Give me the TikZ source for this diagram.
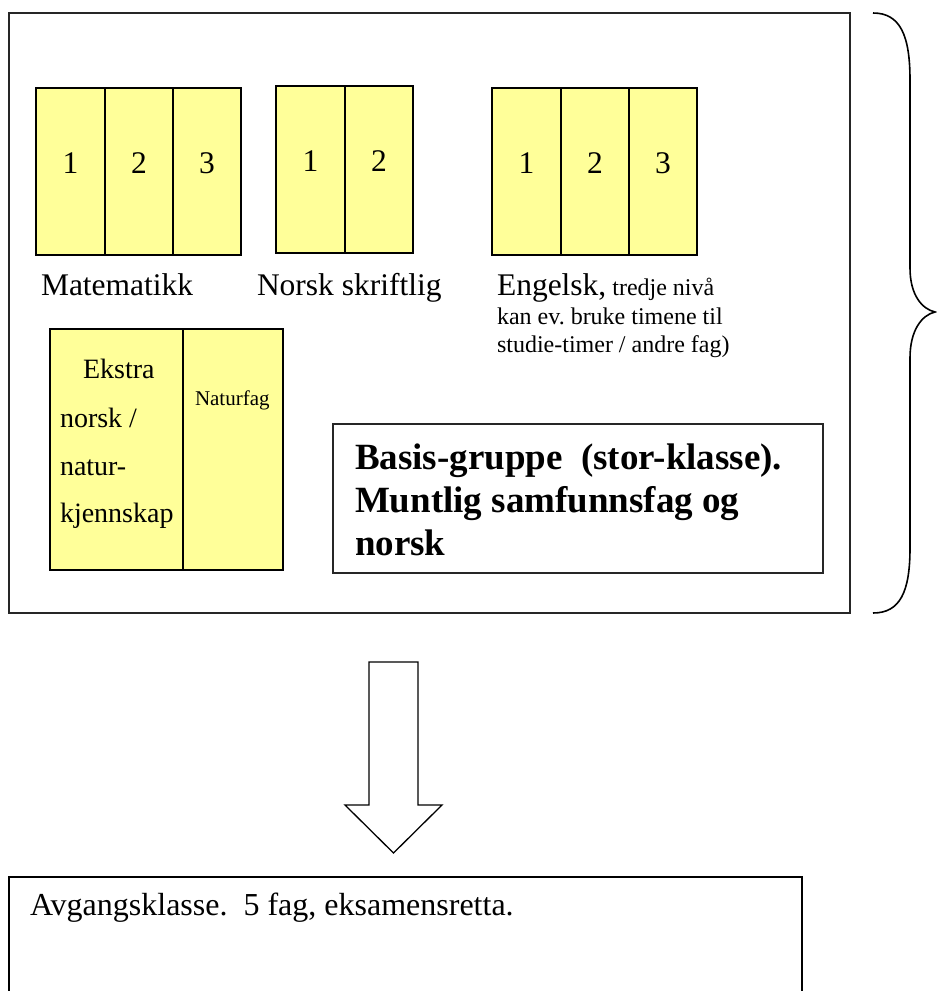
\documentclass[tikz,border=0pt]{standalone}
\usepackage{fontspec}
\setmainfont{Liberation Serif}
\definecolor{cellyellow}{HTML}{FFFF99}
\newcommand\myfBig{\fontsize{31.5}{36}\selectfont}
\newcommand\myfSmall{\fontsize{24}{28}\selectfont}
\newcommand\myfEks{\fontsize{28}{32}\selectfont}
\newcommand\myfNat{\fontsize{21}{24}\selectfont}
\newcommand\myfBold{\fontsize{37}{43}\selectfont\bfseries}
\newcommand\myfAvg{\fontsize{32}{36}\selectfont}
\begin{document}
\frenchspacing
\begin{tikzpicture}[x=1pt,y=-1pt,
  frame/.style={draw=black!85, line width=1.6pt},
  cell/.style={draw=black, line width=1.6pt, fill=cellyellow, anchor=north west, inner sep=0pt, outer sep=0pt},
  txt/.style={anchor=base west, inner sep=0pt, outer sep=0pt},
  num/.style={anchor=base, inner sep=0pt, outer sep=0pt, font=\myfBig}]
\useasboundingbox (0,0) rectangle (937,991);

% outer box
\node[frame, anchor=north west, minimum width=841, minimum height=600, inner sep=0pt, outer sep=0pt] (outer) at (9,13) {};

% brace
\draw[line width=1.6pt] (873,13) .. controls (900,13) and (910,35) .. (910,80) -- (910,268)
  .. controls (910,295) and (922,309) .. (935,312)
  .. controls (922,315) and (910,330) .. (910,358) -- (910,548)
  .. controls (910,592) and (900,613) .. (873,613);

% Matematikk
\node[cell, minimum width=69, minimum height=167] (m1) at (36,88) {};
\node[cell, minimum width=68, minimum height=167] (m2) at (105,88) {};
\node[cell, minimum width=68, minimum height=167] (m3) at (173,88) {};
\node[num] (m1t) at (70.5,173) {1};
\node[num] (m2t) at (139,173) {2};
\node[num] (m3t) at (207,173) {3};
\node[txt, font=\myfBig] (mlab) at (41,295) {Matematikk};

% Norsk skriftlig
\node[cell, minimum width=69, minimum height=167] (n1) at (276,86) {};
\node[cell, minimum width=68, minimum height=167] (n2) at (345,86) {};
\node[num] (n1t) at (310.5,171) {1};
\node[num] (n2t) at (379,171) {2};
\node[txt, font=\myfBig] (nlab) at (257,295) {Norsk skriftlig};

% Engelsk
\node[cell, minimum width=69, minimum height=167] (e1) at (492,88) {};
\node[cell, minimum width=68, minimum height=167] (e2) at (561,88) {};
\node[cell, minimum width=68, minimum height=167] (e3) at (629,88) {};
\node[num] (e1t) at (526.5,173) {1};
\node[num] (e2t) at (595,173) {2};
\node[num] (e3t) at (663,173) {3};
\node[txt] (elab1) at (497,295) {\myfBig Engelsk,\myfSmall{} tredje nivå};
\node[txt, font=\myfSmall] (elab2) at (497,324) {kan ev. bruke timene til};
\node[txt, font=\myfSmall] (elab3) at (497,352) {studie-timer / andre fag)};

% Ekstra / Naturfag
\node[cell, minimum width=133, minimum height=241] (ek) at (50,329) {};
\node[cell, minimum width=100, minimum height=241] (nat) at (183,329) {};
\node[txt, font=\myfEks] (ek1) at (83,378) {Ekstra};
\node[txt, font=\myfEks] (ek2) at (60,427) {norsk /};
\node[txt, font=\myfEks] (ek3) at (60,475) {natur-};
\node[txt, font=\myfEks] (ek4) at (60,522) {kjennskap};
\node[txt, font=\myfNat] (natt) at (195,405) {Naturfag};

% Basis box
\node[frame, anchor=north west, minimum width=490, minimum height=149, inner sep=0pt, outer sep=0pt] (basis) at (333,424) {};
\node[txt, font=\myfBold] (b1) at (355,469) {Basis-gruppe~ (stor-klasse).};
\node[txt, font=\myfBold] (b2) at (355,512) {Muntlig samfunnsfag og};
\node[txt, font=\myfBold] (b3) at (355,555) {norsk};

% block arrow
\coordinate (atop) at (393.5,662);
\draw[line width=1.3pt, line join=miter] (369,662) -- (418,662) -- (418,805) -- (442,805) -- (393.5,853) -- (345,805) -- (369,805) -- cycle;

% bottom box (open at the bottom edge)
\draw[line width=1.8pt] (9,991) -- (9,877) -- (802,877) -- (802,991);
\node[txt, font=\myfAvg] (avg) at (30,915) {Avgangsklasse.~ 5 fag, eksamensretta.};
\end{tikzpicture}
\end{document}
